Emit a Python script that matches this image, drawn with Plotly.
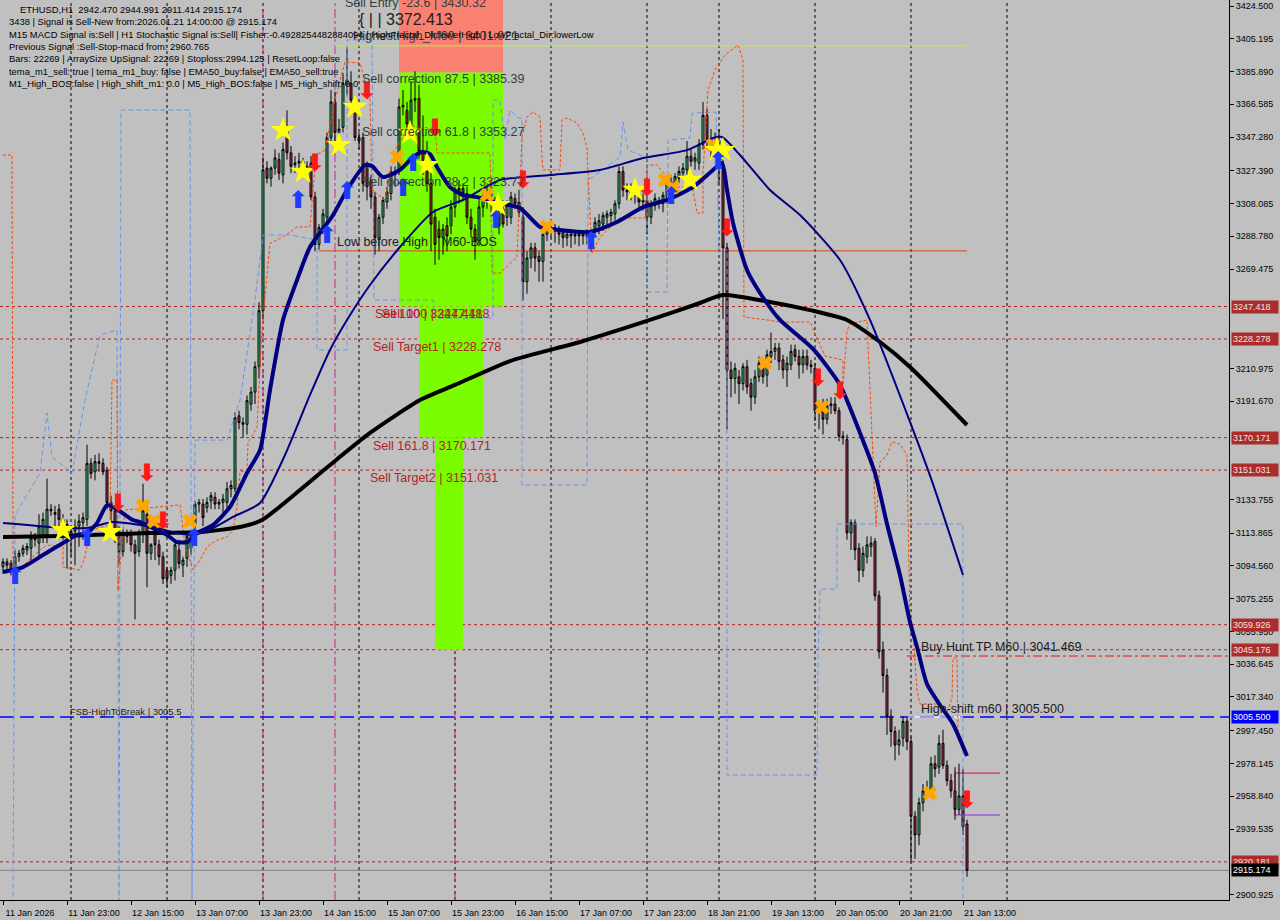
import plotly.graph_objects as go

# ---------------- DATA ----------------
bar_open = [3094,3097,3096,3092,3100,3102,3104,3105,3111,3108,
3112,3113,3128,3126,3128,3122,3119,3113,3115,3118,
3120,3122,3155,3150,3156,3155,3151,3132,3127,3115,
3103,3114,3113,3107,3103,3113,3125,3102,3117,3107,
3100,3092,3089,3092,3104,3095,3099,3105,3119,3131,
3131,3129,3133,3135,3131,3132,3132,3140,3140,3183,
3179,3178,3190,3197,3212,3245,3329,3323,3329,3334,
3325,3351,3338,3331,3332,3333,3330,3332,3312,3284,
3294,3300,3347,3368,3350,3353,3378,3379,3369,3347,
3347,3330,3322,3312,3287,3300,3309,3314,3327,3328,
3365,3363,3354,3369,3370,3339,3332,3320,3300,3293,
3288,3295,3295,3306,3314,3317,3314,3300,3293,3286,
3306,3310,3314,3306,3302,3305,3300,3300,3311,3309,
3300,3262,3276,3282,3277,3274,3290,3294,3293,3293,
3291,3288,3289,3290,3289,3290,3289,3290,3293,3295,
3296,3300,3301,3302,3308,3327,3316,3315,3314,3314,
3309,3310,3300,3307,3310,3308,3312,3321,3318,3323,
3326,3328,3336,3333,3332,3343,3360,3346,3340,3345,
3330,3282,3210,3205,3206,3202,3212,3202,3194,3206,
3211,3207,3218,3221,3223,3216,3210,3213,3222,3218,
3213,3218,3213,3211,3189,3189,3181,3189,3190,3186,
3171,3169,3114,3120,3105,3092,3100,3106,3109,3077,
3045,3030,3006,2997,2989,2993,3003,2991,2947,2936,
2955,2962,2962,2978,2976,2990,2977,2968,2962,2951,
2959,2942.470]

bar_high = [3099,3099,3098,3104,3104,3107,3108,3115,3114,3125,
3126,3146,3131,3130,3131,3125,3122,3118,3122,3125,
3126,3166,3158,3160,3161,3158,3153,3136,3130,3118,
3116,3116,3116,3110,3116,3143,3130,3108,3120,3110,
3103,3094,3094,3109,3110,3100,3114,3114,3133,3134,
3134,3135,3138,3138,3134,3137,3144,3145,3185,3186,
3182,3195,3200,3215,3250,3335,3333,3330,3340,3338,
3344,3363,3342,3336,3338,3335,3333,3336,3315,3296,
3305,3350,3375,3374,3358,3385,3400,3386,3372,3350,
3350,3333,3325,3315,3302,3312,3318,3330,3330,3370,
3375,3368,3380,3386,3378,3360,3345,3330,3305,3298,
3296,3300,3310,3318,3322,3320,3318,3305,3296,3310,
3316,3318,3320,3312,3306,3310,3310,3315,3314,3316,
3306,3280,3285,3285,3280,3292,3296,3296,3296,3295,
3293,3292,3292,3292,3291,3292,3293,3292,3300,3302,
3303,3304,3305,3310,3330,3330,3320,3320,3318,3318,
3314,3312,3310,3314,3312,3315,3324,3325,3326,3330,
3332,3345,3340,3338,3346,3368,3364,3352,3350,3352,
3335,3285,3215,3214,3210,3214,3216,3205,3210,3218,
3216,3222,3232,3226,3226,3219,3218,3225,3225,3222,
3222,3222,3216,3214,3192,3193,3193,3194,3194,3188,
3174,3172,3122,3122,3108,3106,3112,3112,3111,3080,
3050,3034,3010,3000,2998,3006,3006,2994,2950,2958,
2966,2968,2982,2983,2995,2998,2980,2972,2976,2978,
2975,2944.991]

bar_low = [3090,3092,3089,3085,3097,3100,3101,3098,3106,3100,
3108,3108,3124,3118,3118,3110,3093,3100,3095,3106,
3110,3118,3146,3145,3150,3148,3128,3120,3108,3095,
3100,3108,3103,3063,3100,3108,3082,3098,3098,3095,
3084,3082,3084,3086,3093,3088,3094,3101,3115,3126,
3118,3126,3128,3128,3128,3125,3126,3135,3138,3175,
3170,3172,3186,3190,3205,3240,3320,3318,3325,3322,
3320,3334,3326,3326,3328,3324,3325,3310,3280,3281,
3290,3296,3344,3345,3342,3350,3372,3365,3345,3340,
3315,3310,3305,3278,3280,3296,3305,3310,3318,3325,
3360,3350,3350,3362,3335,3325,3315,3280,3272,3275,
3278,3280,3290,3300,3308,3310,3296,3288,3275,3283,
3300,3305,3303,3298,3290,3294,3295,3296,3305,3300,
3251,3255,3270,3268,3262,3262,3286,3288,3285,3284,
3282,3283,3282,3284,3283,3284,3284,3280,3288,3290,
3292,3296,3296,3298,3305,3312,3310,3310,3308,3305,
3304,3290,3296,3304,3305,3303,3308,3314,3315,3320,
3322,3325,3330,3328,3328,3340,3342,3335,3335,3320,
3240,3175,3194,3196,3190,3198,3196,3186,3190,3203,
3202,3200,3214,3216,3210,3205,3200,3210,3215,3205,
3208,3210,3208,3180,3175,3172,3178,3184,3184,3168,
3166,3110,3104,3098,3085,3088,3096,3100,3074,3040,
3020,2995,2988,2980,2983,2988,2986,2920,2922,2930,
2950,2958,2958,2970,2972,2975,2965,2958,2945,2948,
2936,2911.414]

bar_close = [3097,3095,3092,3100,3102,3105,3106,3111,3110,3118,
3122,3128,3127,3125,3122,3119,3113,3115,3118,3121,
3123,3155,3149,3156,3155,3150,3132,3127,3113,3103,
3114,3112,3107,3102,3114,3127,3102,3107,3107,3100,
3087,3087,3092,3107,3096,3098,3112,3112,3131,3132,
3123,3132,3136,3131,3132,3134,3140,3142,3182,3179,
3178,3192,3197,3212,3245,3328,3323,3329,3335,3326,
3340,3338,3330,3332,3333,3328,3328,3312,3284,3294,
3302,3347,3368,3350,3352,3379,3381,3369,3347,3345,
3320,3318,3312,3288,3300,3310,3315,3327,3325,3365,
3366,3355,3369,3370,3339,3332,3320,3296,3284,3288,
3293,3289,3306,3315,3317,3314,3300,3293,3286,3306,
3310,3314,3308,3302,3295,3296,3307,3312,3308,3303,
3262,3276,3282,3276,3274,3290,3294,3293,3294,3290,
3288,3290,3290,3289,3290,3289,3290,3291,3297,3298,
3301,3302,3303,3308,3327,3316,3315,3314,3313,3309,
3310,3300,3307,3311,3308,3313,3322,3318,3324,3327,
3329,3336,3333,3335,3343,3360,3346,3340,3345,3330,
3282,3210,3205,3211,3202,3212,3200,3194,3206,3214,
3206,3219,3221,3223,3215,3210,3214,3221,3218,3213,
3218,3213,3212,3186,3186,3181,3189,3190,3186,3171,
3170,3114,3120,3104,3092,3102,3107,3108,3077,3044,
3030,3006,2997,2989,2992,3003,2991,2947,2936,2955,
2962,2963,2978,2975,2990,2977,2968,2962,2951,2959,
2941,2915.174]

# x-axis labels (every 16 bars)
time_tick_bars = [0,16,32,48,64,80,96,112,128,144,160,176,192,208,224,240]
time_tick_text = ["11 Jan 2026","11 Jan 23:00","12 Jan 15:00","13 Jan 07:00","13 Jan 23:00",
                  "14 Jan 15:00","15 Jan 07:00","15 Jan 23:00","16 Jan 15:00","17 Jan 07:00",
                  "17 Jan 23:00","18 Jan 21:00","19 Jan 13:00","20 Jan 05:00","20 Jan 21:00",
                  "21 Jan 13:00"]
day_start_bars = [17,41,65,89,113,137,161,179,203,227,251]

price_tick_vals = [3424.500,3405.195,3385.890,3366.585,3347.280,3327.390,3308.085,3288.780,
                   3269.475,3210.975,3191.670,3133.755,3113.865,3094.560,3075.255,3055.950,
                   3036.645,3017.340,2997.450,2978.145,2958.840,2939.535,2900.925]

# indicator lines (bar index, price)
ema_fast_bar = [0,5,10,15,18.5,21,23.5,26,28,32.5,34.25,38.5,41,43.5,46,48.5,52.5,56.75,61,64.25,66.75,
                70,73.5,76.75,82.5,86,90.5,92.25,95,99.25,102.25,104.75,106.75,108.5,111.75,115,118.5,
                124.25,129.25,134.25,139.25,146.75,153.5,160,166,172.5,177.5,179.75,181,182.5,186,
                189.25,194.25,202.5,209.25,214.25,218,221,224.25,226.75,228.5,231,234.25,237.5,241]
ema_fast_val = [3091.0,3093.9,3101.0,3108.1,3112.8,3113.9,3119.8,3130.4,3128.7,3121.6,3120.4,3115.7,
                3112.8,3108.6,3108.6,3113.9,3118.7,3129.3,3149.3,3162.9,3198.2,3239.5,3263.0,3282.5,
                3301.3,3316.1,3330.8,3330.2,3323.7,3327.9,3334.9,3338.5,3337.3,3329.6,3317.8,3313.1,
                3311.9,3308.4,3305.5,3294.3,3292.5,3291.3,3297.2,3306.0,3310.2,3317.8,3327.9,3332.0,
                3316.1,3296.6,3268.9,3255.4,3239.5,3222.4,3201.2,3172.9,3149.3,3119.3,3089.2,3061.5,
                3046.8,3025.0,3012.6,3001.4,2982.5]

ema_mid_bar = [0,16,21,27.5,32.5,38.5,43.5,47.5,52.5,57.5,64.25,70.5,76.75,81.75,86,91.75,99.25,
               107.5,115,124.25,136.75,149.25,160,171,177.5,179.75,184.25,191.75,199.25,209.25,
               216.75,226.75,232.5,240]
ema_mid_val = [3119.9,3116.9,3116.9,3120.4,3119.3,3116.9,3113.9,3112.8,3116.9,3123.4,3131.6,3159.9,
               3195.3,3221.8,3239.5,3260.1,3282.5,3303.1,3310.2,3322.0,3324.9,3327.9,3334.9,3339.6,
               3346.7,3347.3,3336.7,3316.1,3301.3,3274.8,3239.5,3179.4,3142.8,3089.2]

ema_slow_bar = [0,14.25,36.75,49.25,59.25,64.75,74.25,81.75,91.75,104.25,113,126.75,144.25,161.75,
                174.25,180,191.75,201.75,211,219.25,226.75,241]
ema_slow_val = [3111.6,3112.2,3113.9,3114.5,3117.5,3121.6,3139.3,3154.0,3172.9,3192.3,3201.2,3215.3,
                3226.5,3239.5,3249.5,3254.2,3250.1,3245.3,3239.5,3226.5,3211.8,3177.6]

band_red_bar = [0,2.25,2.5,9.25,11,15,15,19.25,20.5,21.75,26.75,27.25,28.5,28.75,30.5,44.25,45.5,47.5,
                49.25,51,53.5,56,57.5,58.5,59.25,61,61.25,63.5,64.75,66.75,70,73.5,76.75,78.25,80.5,
                83,85.5,89.25,91.75,92.25,95.5,98,101.75,105.5,108,108.5,121.75,122.25,124.25,128.5,
                129.75,131,132.5,134.25,134.75,135,139.25,139.75,141,143.5,145,146,146.25,146.75,
                147.25,149.25,151.75,154.25,161,161,163.5,166,166.75,171,172.5,173.5,175,175,176.25,
                178,180.5,183.75,185,185.25,191,194.25,201.75,205.5,210,210,211,211.75,216,217.5,
                218.25,219.25,221,222.25,224.25,226,226.25,226.75,227.5,228.5,229.25,234.75,236,
                237.25,237.5,238.5,238.75,239.75]
band_red_val = [3336.7,3336.7,3089.2,3103.9,3106.9,3105.7,3093.9,3092.2,3099.8,3115.7,3118.7,3204.1,
                3204.1,3080.4,3127.5,3130.5,3106.9,3092.2,3098.0,3105.7,3109.8,3111.6,3115.7,3129.3,
                3149.9,3151.1,3167.0,3176.4,3233.6,3284.8,3288.4,3294.3,3294.3,3336.7,3339.6,3369.1,
                3391.5,3390.9,3369.1,3316.1,3310.2,3339.6,3354.4,3351.4,3353.2,3337.9,3337.9,3267.1,
                3267.1,3276.6,3347.3,3359.1,3362.0,3359.1,3335.5,3327.9,3327.9,3357.3,3358.5,3355.5,
                3349.6,3340.8,3326.1,3300.1,3278.9,3288.4,3294.3,3299.6,3299.6,3330.8,3330.8,3323.7,
                3317.8,3317.8,3316.1,3302.5,3302.5,3326.1,3375.0,3386.8,3395.6,3401.5,3392.7,3241.2,
                3239.5,3238.3,3238.3,3218.2,3215.9,3201.2,3233.0,3237.1,3239.5,3158.1,3117.5,3155.8,
                3159.9,3167.5,3166.4,3159.9,3121.6,3059.7,3057.4,3020.8,3013.2,3013.2,3007.9,3016.7,
                3040.3,3040.3,2994.9,2992.0]

band_blue_bar = [2.5,3,9.25,11,12.25,17.25,20.5,24.25,28.5,29,29.5,46.75,47.25,48,56,59.25,63,65,
                 71.75,78.5,78.5,86,86,92.25,92.75,107.5,108,122.5,122.5,124.25,125.5,126.75,128.75,
                 129.75,129.75,146,146.25,149.25,154.25,155,156.25,161,161,166,166.25,171.75,172.25,
                 178.25,179,181,181,203.5,203.75,204.25,208.5,208.5,240,240]
band_blue_val = [2895,3124.6,3149.3,3184.7,3158.7,3149.3,3192.3,3230.6,3233.6,2895,3363.2,3363.2,2895,
                 3168.7,3168.7,3192.3,3251.3,3289.6,3289.6,3286.6,3221.8,3221.8,3404.5,3404.5,3251.3,
                 3251.3,3240.6,3240.6,3369.1,3369.1,3345.5,3363.2,3358.5,3358.5,3142.2,3142.2,3322.0,
                 3326.7,3335.5,3356.1,3339.6,3334.9,3256.0,3256.0,3345.5,3346.7,3361.4,3362.0,3280.7,
                 3280.7,2971.3,2971.3,3040.3,3080.9,3080.9,3119.3,3119.3,2895]

# signal markers (bar index, price)
star_bar = [15,26.75,70,75,84,88,101.75,106,123.75,158,171.75,178.5,180]
star_val = [3115.7,3114.5,3351.4,3326.7,3342.6,3365.0,3349.7,3330.8,3307.2,3316.1,3322.0,3339.6,3339.6]
buy_arrow_bar = [3,21,47.75,73.75,81,86,100,102.5,123.25,147,167,178.75]
buy_arrow_val = [3087.4,3109.8,3109.8,3309.0,3288.4,3314.3,3316.1,3330.8,3297.2,3284.8,3311.4,3332.0]
sell_arrow_bar = [28.75,36,40,78,91,108,130,161,181,203.75,209.25,241]
sell_arrow_val = [3130.4,3148.1,3119.8,3330.8,3373.2,3351.4,3320.8,3316.1,3292.5,3204.1,3196.4,2955.4]
cross_bar = [35,37.75,46.75,98.5,121,136,165.5,167.5,177.5,190.5,204.75,231.75]
cross_val = [3129.9,3121.0,3121.0,3335.5,3313.1,3294.3,3322.0,3317.8,3342.6,3214.1,3188.2,2960.7]

# levels
sell_levels = [3247.418, 3228.278, 3170.171, 3151.031, 3059.926, 3045.176, 2920.181]
high_shift_level = 3005.500
bid_price = 2915.174
highest_high_m60 = 3401.021
low_before_high = 3280.2
buy_hunt_tp = 3041.469
sell_entry = 3430.32
sell_corr_875 = 3385.39
box_hi, box_lo = 2972.5, 2947.8

info_lines = [
    "ETHUSD,H1  2942.470 2944.991 2911.414 2915.174",
    "3438 | Signal is Sell-New from:2026.01.21 14:00:00 @ 2915.174",
    "M15 MACD Signal is:Sell | H1 Stochastic Signal is:Sell| Fisher:-0.4928254482884094 | HighFractal_Dir:lowerHigh | LowFractal_Dir:lowerLow",
    "Previous Signal :Sell-Stop-macd from: 2960.765",
    "Bars: 22269 | ArraySize UpSignal: 22269 | Stoploss:2994.125 | ResetLoop:false",
    "tema_m1_sell: true | tema_m1_buy: false | EMA50_buy:false | EMA50_sell:true",
    "M1_High_BOS:false | High_shift_m1: 0.0 | M5_High_BOS:false | M5_High_shift: 0.0",
]

# ---------------- FIGURE ----------------
FONT = "Liberation Sans, Arial, sans-serif"
W, H = 1280, 920
ML, MR, MT, MB = 0, 51, 0, 20
PW, PH = W - ML - MR, H - MT - MB

fig = go.Figure()
bars = list(range(len(bar_close)))

fig.add_trace(go.Candlestick(
    x=bars, open=bar_open, high=bar_high, low=bar_low, close=bar_close,
    increasing=dict(fillcolor="#3CD07A", line=dict(color="#000000", width=1)),
    decreasing=dict(fillcolor="#B0304A", line=dict(color="#000000", width=1)),
    whiskerwidth=0, hoverinfo="skip", showlegend=False))

fig.add_trace(go.Scatter(x=band_blue_bar, y=band_blue_val, mode="lines",
                         line=dict(color="#6495ED", width=1, dash="5px,3px"),
                         hoverinfo="skip", showlegend=False))
fig.add_trace(go.Scatter(x=band_red_bar, y=band_red_val, mode="lines",
                         line=dict(color="#FF4500", width=1, dash="3px,2px"),
                         hoverinfo="skip", showlegend=False))
fig.add_trace(go.Scatter(x=ema_slow_bar, y=ema_slow_val, mode="lines",
                         line=dict(color="#000000", width=4, shape="spline", smoothing=0.6),
                         hoverinfo="skip", showlegend=False))
fig.add_trace(go.Scatter(x=ema_mid_bar, y=ema_mid_val, mode="lines",
                         line=dict(color="#000080", width=2, shape="spline", smoothing=0.6),
                         hoverinfo="skip", showlegend=False))
fig.add_trace(go.Scatter(x=ema_fast_bar, y=ema_fast_val, mode="lines",
                         line=dict(color="#000080", width=4, shape="spline", smoothing=0.6),
                         hoverinfo="skip", showlegend=False))

fig.add_trace(go.Scatter(x=cross_bar, y=cross_val, mode="markers",
                         marker=dict(symbol="x", size=13, color="#FFA500", line=dict(width=0)),
                         hoverinfo="skip", showlegend=False))
fig.add_trace(go.Scatter(x=star_bar, y=star_val, mode="markers",
                         marker=dict(symbol="star", size=19, color="#FFFF00", line=dict(width=0)),
                         hoverinfo="skip", showlegend=False))
fig.add_trace(go.Scatter(x=buy_arrow_bar, y=buy_arrow_val, mode="text",
                         text=["<b>⬆</b>"] * len(buy_arrow_bar), textposition="middle center",
                         textfont=dict(family="DejaVu Sans", size=24, color="#1E3CFF"),
                         hoverinfo="skip", showlegend=False))
fig.add_trace(go.Scatter(x=sell_arrow_bar, y=sell_arrow_val, mode="text",
                         text=["<b>⬇</b>"] * len(sell_arrow_bar), textposition="middle center",
                         textfont=dict(family="DejaVu Sans", size=24, color="#FF1A1A"),
                         hoverinfo="skip", showlegend=False))

shapes = []
# zone rectangles
shapes.append(dict(type="rect", xref="x", yref="y", x0=99, x1=125, y0=sell_corr_875, y1=sell_entry,
                   fillcolor="#FA8072", line=dict(width=0), layer="below"))
shapes.append(dict(type="rect", xref="x", yref="y", x0=99, x1=125, y0=sell_levels[0], y1=sell_corr_875,
                   fillcolor="#7CFC00", line=dict(width=0), layer="below"))
shapes.append(dict(type="rect", xref="x", yref="y", x0=104, x1=120, y0=sell_levels[2], y1=sell_levels[0],
                   fillcolor="#7CFC00", line=dict(width=0), layer="below"))
shapes.append(dict(type="rect", xref="x", yref="y", x0=108, x1=115, y0=sell_levels[5], y1=sell_levels[2],
                   fillcolor="#7CFC00", line=dict(width=0), layer="below"))
# day separators
for b in day_start_bars:
    shapes.append(dict(type="line", xref="x", yref="paper", x0=b, x1=b, y0=0, y1=1,
                       line=dict(color="#000000", width=1, dash="3px,3px"), layer="below"))
# magenta verticals
for b in [65, 83, 113]:
    shapes.append(dict(type="line", xref="x", yref="paper", x0=b, x1=b, y0=0, y1=1,
                       line=dict(color="#C8288C", width=1, dash="dashdot"), layer="below"))
# sell level dashed lines
for lv in sell_levels:
    shapes.append(dict(type="line", xref="paper", yref="y", x0=0, x1=1, y0=lv, y1=lv,
                       line=dict(color="#B22222", width=1, dash="3px,3px"), layer="below"))
# bid line
shapes.append(dict(type="line", xref="paper", yref="y", x0=0, x1=1, y0=bid_price, y1=bid_price,
                   line=dict(color="#808080", width=1), layer="below"))
# high shift line
shapes.append(dict(type="line", xref="paper", yref="y", x0=0, x1=1, y0=high_shift_level, y1=high_shift_level,
                   line=dict(color="#0000FF", width=1.5, dash="14px,6px"), layer="below"))
shapes.append(dict(type="line", xref="x", yref="y", x0=226, x1=240, y0=high_shift_level, y1=high_shift_level,
                   line=dict(color="#FFFFFF", width=1), layer="below"))
# buy hunt TP
shapes.append(dict(type="line", xref="x", yref="y", x0=226, x1=306.5, y0=buy_hunt_tp, y1=buy_hunt_tp,
                   line=dict(color="#E01818", width=1, dash="dashdot"), layer="below"))
# highest high line
shapes.append(dict(type="line", xref="x", yref="y", x0=83, x1=241, y0=highest_high_m60, y1=highest_high_m60,
                   line=dict(color="#B8F040", width=1), layer="below"))
# low before high
shapes.append(dict(type="line", xref="x", yref="y", x0=79, x1=241, y0=low_before_high, y1=low_before_high,
                   line=dict(color="#E04010", width=1), layer="below"))
# small box at end
shapes.append(dict(type="line", xref="x", yref="y", x0=238, x1=249.25, y0=box_hi, y1=box_hi,
                   line=dict(color="#DC143C", width=1), layer="below"))
shapes.append(dict(type="line", xref="x", yref="y", x0=238, x1=249.25, y0=box_lo, y1=box_lo,
                   line=dict(color="#8A2BE2", width=1), layer="below"))
shapes.append(dict(type="line", xref="x", yref="y", x0=238, x1=238, y0=box_lo, y1=box_hi,
                   line=dict(color="#DC143C", width=1), layer="below"))

annotations = []
def ptext(txt, px, py, size=9.4, color="#000000"):
    annotations.append(dict(text=txt, xref="paper", yref="paper", x=px / PW, y=1 - py / PH,
                            xanchor="left", yanchor="middle", showarrow=False,
                            font=dict(family=FONT, size=size, color=color)))

def dtext(txt, bx, pv, size=12.5, color="#2F3F3F"):
    annotations.append(dict(text=txt, xref="x", yref="y", x=bx, y=pv,
                            xanchor="left", yanchor="middle", showarrow=False,
                            font=dict(family=FONT, size=size, color=color)))

# object texts
dtext("Sell Entry -23.6 | " + f"{sell_entry:.2f}", 85, 3426.3)
dtext("{ | | 3372.413", 88.5, 3416.3, size=16, color="#202020")
dtext("HighestHigh_M60 | " + f"{highest_high_m60:.3f}", 87, 3407.4, size=12.8)
dtext("Sell correction 87.5 | 3385.39", 89.25, 3381.5)
dtext("Sell correction 61.8 | 3353.27", 89.25, 3350.3)
dtext("Sell correction 38.2 | 3323.77", 89.25, 3320.8)
dtext("Low before High", 83, 3285.4, color="#202020")
dtext("M60-BOS", 109.25, 3285.4, color="#202020")
dtext("Sell 100 | 3247.418", 92.5, 3243.0, color="#B22222")
dtext("Sell 100 | 3247.418", 94.25, 3243.0, color="#B22222")
dtext("Sell Target1 | 3228.278", 92, 3223.5, color="#B22222")
dtext("Sell 161.8 | 3170.171", 92, 3165.2, color="#B22222")
dtext("Sell Target2 | 3151.031", 91.25, 3146.4, color="#B22222")
dtext("Buy Hunt TP M60 | " + f"{buy_hunt_tp:.3f}", 229, 3046.8, color="#202020")
dtext("High-shift m60 | " + f"{high_shift_level:.3f}", 229, 3010.2, color="#202020")
dtext("FSB-HighToBreak | 3005.5", 16.25, 3008.5, size=9.4, color="#202020")

# info panel
for i, line in enumerate(info_lines):
    ptext(line, 18 if i == 0 else 7, 9.5 + 12.3 * i)

# price labels on the right axis
price_labels = [(lv, "#AA2C2C", "#F4E4E4") for lv in sell_levels]
price_labels.append((high_shift_level, "#0000FF", "#FFFFFF"))
price_labels.append((bid_price, "#000000", "#FFFFFF"))
for val, bg, fc in price_labels:
    annotations.append(dict(text=f"{val:.3f}", xref="paper", yref="y", x=1, y=val,
                            xanchor="left", yanchor="middle", xshift=2, showarrow=False,
                            bgcolor=bg, borderpad=1, width=44, align="left",
                            font=dict(family=FONT, size=9, color=fc)))

fig.update_layout(
    width=W, height=H,
    margin=dict(l=ML, r=MR, t=MT, b=MB, pad=0),
    paper_bgcolor="#C0C0C0", plot_bgcolor="#C0C0C0",
    font=dict(family=FONT, size=9, color="#000000"),
    showlegend=False, hovermode=False,
    shapes=shapes, annotations=annotations,
    xaxis=dict(type="linear", range=[-0.75, 306.5], rangeslider=dict(visible=False),
               showgrid=False, zeroline=False, showline=True, linecolor="#000000", linewidth=1,
               mirror=True, ticks="outside", ticklen=4, tickcolor="#000000",
               tickvals=time_tick_bars, ticktext=time_tick_text, ticklabelshift=27,
               tickfont=dict(family=FONT, size=9, color="#000000")),
    yaxis=dict(side="right", range=[2897.7, 3428.04], showgrid=False, zeroline=False,
               showline=True, linecolor="#000000", linewidth=1, mirror=True,
               ticks="outside", ticklen=4, tickcolor="#000000",
               tickvals=price_tick_vals, ticktext=[f"{v:.3f}" for v in price_tick_vals],
               tickfont=dict(family=FONT, size=9, color="#000000")),
)

fig.write_html("out.html", config={"displayModeBar": False},
               post_script="document.body.style.margin='0px';document.body.style.background='#C0C0C0';")
